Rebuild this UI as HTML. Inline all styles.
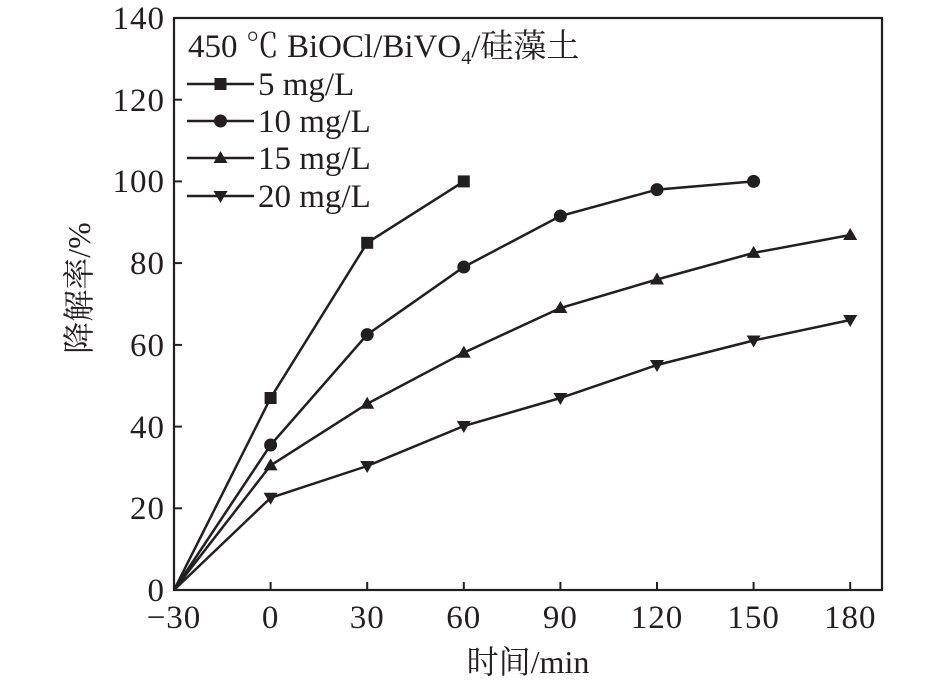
<!DOCTYPE html>
<html><head><meta charset="utf-8"><style>
body{margin:0;background:#fff;}
svg text{font-family:"Liberation Serif","Noto Serif CJK SC",serif;fill:#231f20;}
</style></head><body>
<svg width="945" height="683" viewBox="0 0 945 683" xmlns="http://www.w3.org/2000/svg">
<g stroke="#231f20" stroke-width="2.2" fill="none">
<rect x="174" y="18" width="708" height="572"/>
</g>
<g stroke="#231f20" stroke-width="2">
<line x1="270.6" y1="590" x2="270.6" y2="582"/>
<line x1="367.2" y1="590" x2="367.2" y2="582"/>
<line x1="463.8" y1="590" x2="463.8" y2="582"/>
<line x1="560.4" y1="590" x2="560.4" y2="582"/>
<line x1="657" y1="590" x2="657" y2="582"/>
<line x1="753.6" y1="590" x2="753.6" y2="582"/>
<line x1="850.2" y1="590" x2="850.2" y2="582"/>
<line x1="174" y1="508.3" x2="182" y2="508.3"/>
<line x1="174" y1="426.6" x2="182" y2="426.6"/>
<line x1="174" y1="344.9" x2="182" y2="344.9"/>
<line x1="174" y1="263.1" x2="182" y2="263.1"/>
<line x1="174" y1="181.4" x2="182" y2="181.4"/>
<line x1="174" y1="99.7" x2="182" y2="99.7"/>
</g>
<g font-size="33" text-anchor="middle" letter-spacing="1">
<text x="174" y="628">−30</text>
<text x="270.6" y="628">0</text>
<text x="367.2" y="628">30</text>
<text x="463.8" y="628">60</text>
<text x="560.4" y="628">90</text>
<text x="657" y="628">120</text>
<text x="753.6" y="628">150</text>
<text x="850.2" y="628">180</text>
</g>
<g font-size="33" text-anchor="end" letter-spacing="1">
<text x="165" y="601">0</text>
<text x="165" y="519">20</text>
<text x="165" y="438">40</text>
<text x="165" y="356">60</text>
<text x="165" y="274">80</text>
<text x="165" y="192">100</text>
<text x="165" y="111">120</text>
<text x="165" y="29">140</text>
</g>
<text x="528" y="673" font-size="32" text-anchor="middle">时间/min</text>
<text transform="translate(90,288) rotate(-90)" font-size="32" text-anchor="middle">降解率/%</text>
<g stroke="#231f20" stroke-width="2.5" fill="none">
<polyline points="174,590 270.6,398 367.2,242.8 463.8,181.4"/>
<polyline points="174,590 270.6,445 367.2,334.6 463.8,267 560.4,216 657,189.6 753.6,181.4"/>
<polyline points="174,590 270.6,465.4 367.2,403.8 463.8,352.7 560.4,308 657,279.5 753.6,252.9 850.2,235"/>
<polyline points="174,590 270.6,497.8 367.2,466 463.8,426 560.4,398 657,365 753.6,340.5 850.2,320"/>
</g>
<g fill="#231f20">
<rect x="264.6" y="392" width="12" height="12"/><rect x="361.2" y="236.8" width="12" height="12"/><rect x="457.8" y="175.4" width="12" height="12"/>
<circle cx="270.6" cy="445" r="6.5"/><circle cx="367.2" cy="334.6" r="6.5"/><circle cx="463.8" cy="267" r="6.5"/><circle cx="560.4" cy="216" r="6.5"/><circle cx="657" cy="189.6" r="6.5"/><circle cx="753.6" cy="181.4" r="6.5"/>
<path d="M270.6,458.4 l7,12 h-14z"/><path d="M367.2,396.8 l7,12 h-14z"/><path d="M463.8,345.7 l7,12 h-14z"/><path d="M560.4,301 l7,12 h-14z"/><path d="M657,272.5 l7,12 h-14z"/><path d="M753.6,245.9 l7,12 h-14z"/><path d="M850.2,228 l7,12 h-14z"/>
<path d="M270.6,504.8 l7,-12 h-14z"/><path d="M367.2,473 l7,-12 h-14z"/><path d="M463.8,433 l7,-12 h-14z"/><path d="M560.4,405 l7,-12 h-14z"/><path d="M657,372 l7,-12 h-14z"/><path d="M753.6,347.5 l7,-12 h-14z"/><path d="M850.2,327 l7,-12 h-14z"/>
</g>
<text x="188" y="57" font-size="33">450 ℃ BiOCl/BiVO<tspan font-size="20" dy="7">4</tspan><tspan dy="-7">/硅藻土</tspan></text>
<g stroke="#231f20" stroke-width="2.5">
<line x1="187" y1="84" x2="254" y2="84"/>
<line x1="187" y1="121" x2="254" y2="121"/>
<line x1="187" y1="158" x2="254" y2="158"/>
<line x1="187" y1="196" x2="254" y2="196"/>
</g>
<g fill="#231f20">
<rect x="214.5" y="78" width="12" height="12"/>
<circle cx="220.5" cy="121" r="6.5"/>
<path d="M220.5,151 l7,12 h-14z"/>
<path d="M220.5,203 l7,-12 h-14z"/>
</g>
<g font-size="33">
<text x="258" y="95">5 mg/L</text>
<text x="258" y="132">10 mg/L</text>
<text x="258" y="169">15 mg/L</text>
<text x="258" y="207">20 mg/L</text>
</g>
</svg>
</body></html>
